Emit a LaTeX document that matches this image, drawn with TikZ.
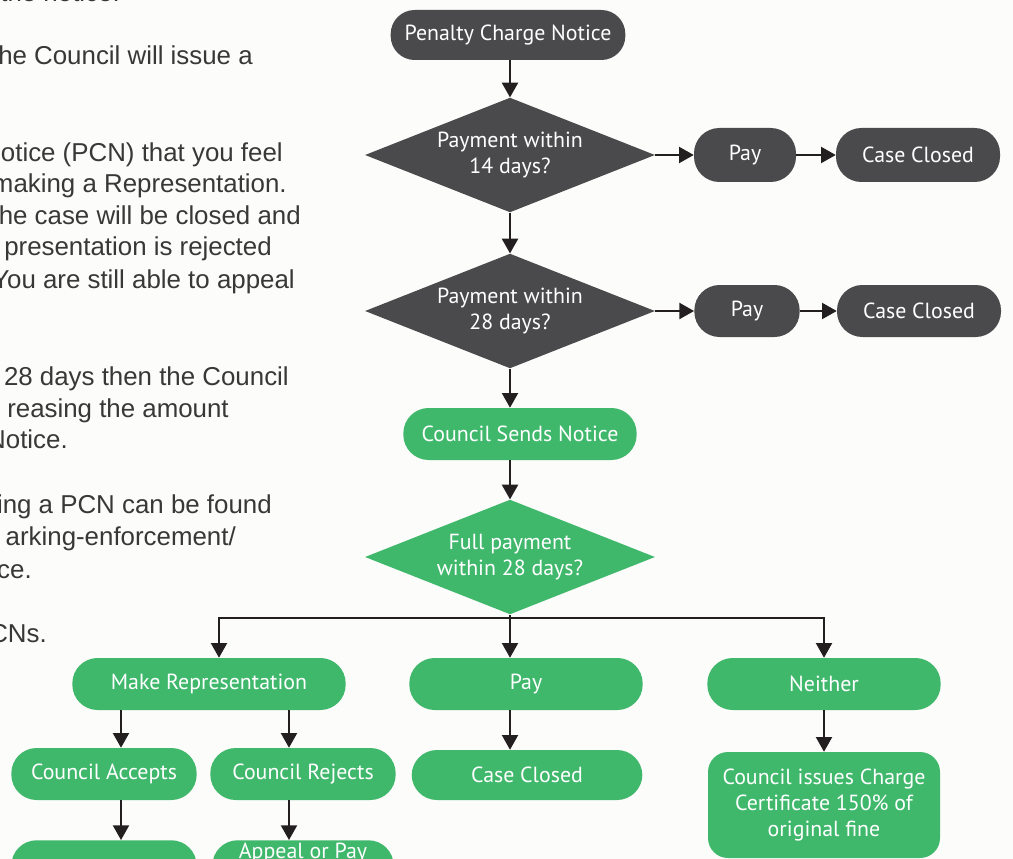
\documentclass[tikz,border=0pt]{standalone}
\usepackage{fontspec}
\setmainfont{Liberation Sans}
\newfontfamily\chartfont{PT Sans}
\usetikzlibrary{shapes.geometric}
\usetikzlibrary{arrows.meta}

\definecolor{paper}{HTML}{FCFCFA}
\definecolor{darkbox}{HTML}{4A4A4C}
\definecolor{greenbox}{HTML}{3FB86C}
\definecolor{bodytext}{HTML}{383838}
\definecolor{linkcol}{HTML}{231F20}

\tikzset{
 box/.style={rectangle, rounded corners=19pt, minimum height=39pt, inner sep=2pt,
   align=center, text=white, font=\chartfont\fontsize{16.4}{19.5}\selectfont},
 darkpill/.style={box, fill=darkbox},
 greenpill/.style={box, fill=greenbox},
 choice/.style={diamond, aspect=2.6, minimum width=217.5pt, minimum height=86pt, inner sep=0pt,
   align=center, text=white, font=\chartfont\fontsize{16.4}{19}\selectfont},
 link/.style={draw=linkcol, line width=1.5pt, ->, >={Triangle[width=12pt,length=11pt]}},
 para/.style={anchor=base east, inner sep=0pt, text=bodytext, font=\fontsize{19.4}{24}\selectfont}
}

\begin{document}
\begin{tikzpicture}[x=0.75pt,y=-0.75pt]
\useasboundingbox (0,0) rectangle (1013,859);
\clip (0,0) rectangle (1013,859);
\fill[paper] (0,0) rectangle (1013,859);

% left text column, cut off by the frame
\foreach \y/\x/\t in {2/120/the notice., 65/253/he Council will issue a,
  162/283/otice (PCN) that you feel, 193/287/making a Representation.,
  225/301/he case will be closed and, 256/272/presentation is rejected,
  288/295/You are still able to appeal, 385/289/28 days then the Council,
  417/229/reasing the amount, 448/68/Notice., 513/272/ing a PCN can be found,
  545/236/{arking-enforcement/}, 578/32/ce., 642/47/CNs.}
  \node[para] (line\y) at (\x,\y) {\t};

% columns for the vertical arrows
\coordinate (colM) at (510,0);
\coordinate (colR) at (219,0);
\coordinate (colA) at (121,0);
\coordinate (colB) at (289,0);

% first checks (grey)
\node[darkpill, minimum width=176pt, minimum height=37.5pt, rounded corners=18pt] (pcn) at (508,35) {Penalty Charge Notice};
\node[choice, fill=darkbox] (q14) at (510,155) {Payment within\\14 days?};
\node[darkpill, minimum width=76.5pt, minimum height=40.5pt] (pay14) at (745,155) {Pay};
\node[darkpill, minimum width=123pt, minimum height=40.5pt] (closed14) at (918,155) {Case Closed};
\node[choice, fill=darkbox] (q28) at (510,311) {Payment within\\28 days?};
\node[darkpill, minimum width=79pt] (pay28) at (747,311) {Pay};
\node[darkpill, minimum width=123pt] (closed28) at (919,311) {Case Closed};

% after the notice (green)
\node[greenpill, minimum width=175pt] (sends) at (520,434) {Council Sends Notice};
\node[choice, fill=greenbox] (qfull) at (510,557) {Full payment\\within 28 days?};
\node[greenpill, minimum width=205pt] (rep) at (209,684) {Make Representation};
\node[greenpill, minimum width=175pt] (pay) at (526,684) {Pay};
\node[greenpill, minimum width=175pt] (neither) at (824,684) {Neither};
\node[greenpill, minimum width=139pt] (accepts) at (104,774) {Council Accepts};
\node[greenpill, minimum width=139pt] (rejects) at (303,774) {Council Rejects};
\node[greenpill, minimum width=173pt, minimum height=37.5pt] (closed) at (527,775) {Case Closed};
\node[greenpill, minimum width=174pt, minimum height=79.5pt, rounded corners=15pt] (charge) at (824,805)
  {Council issues Charge\\Certificate 150\% of\\original fine};
\node[greenpill, minimum width=139pt, anchor=north] (acceptnext) at (104,840) {};
\node[greenpill, minimum width=136pt, anchor=north, text depth=28pt] (appeal) at (303,840) {Appeal or Pay};

% arrows
\draw[link] (pcn.south -| colM) -- (q14.north);
\draw[link] (q14.east) -- (pay14.west);
\draw[link] (pay14.east) -- (closed14.west);
\draw[link] (q14.south) -- (q28.north);
\draw[link] (q28.east) -- (pay28.west);
\draw[link] (pay28.east) -- (closed28.west);
\draw[link] (q28.south) -- (colM |- sends.north);
\draw[link] (colM |- sends.south) -- (qfull.north);
\draw[line width=1.5pt, draw=linkcol] (qfull.south) -- ++(0,3) coordinate (fork);
\draw[link] (fork) -| (colR |- rep.north);
\draw[link] (fork) -- (colM |- pay.north);
\draw[link] (fork) -| (neither.north);
\draw[link] (colA |- rep.south) -- (colA |- accepts.north);
\draw[link] (colB |- rep.south) -- (colB |- rejects.north);
\draw[link] (colA |- accepts.south) -- (colA |- acceptnext.north);
\draw[link] (colB |- rejects.south) -- (colB |- appeal.north);
\draw[link] (colM |- pay.south) -- (colM |- closed.north);
\draw[link] (neither.south) -- (charge.north);
\end{tikzpicture}
\end{document}
